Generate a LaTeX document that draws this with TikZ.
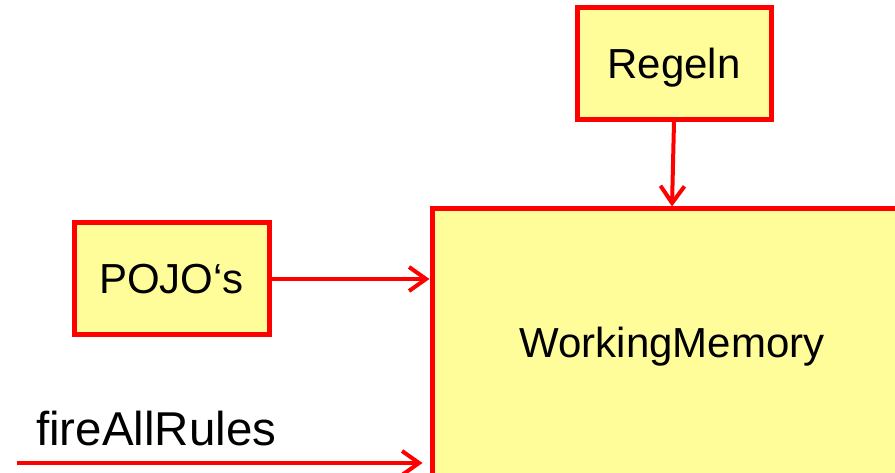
\documentclass[tikz,border=0pt]{standalone}
\usepackage{fontspec}
\setmainfont{Liberation Sans}
\usetikzlibrary{arrows.meta}
\definecolor{boxfill}{RGB}{255,253,153}
\definecolor{boxline}{RGB}{255,0,0}
\tikzset{
  block/.style={draw=boxline, fill=boxfill, line width=5pt, rectangle,
    inner sep=0pt, font=\fontsize{42}{42}\selectfont,
    text height=30pt, text depth=0pt},
  flow/.style={draw=boxline, line width=4pt,
    -{Straight Barb[length=17pt,width=24pt,line width=4pt]}}
}
\begin{document}
\begin{tikzpicture}[x=1pt,y=-1pt]
  \useasboundingbox (0,0) rectangle (895,473);
  \clip (0,0) rectangle (895,473);
  % rule engine parts
  \node[block, minimum width=194pt, minimum height=112pt] (regeln) at (674,63.5) {Regeln};
  \node[block, minimum width=195pt, minimum height=112pt] (pojo) at (171.5,279) {POJO‘s};
  \node[block, minimum width=480pt, minimum height=266pt] (wm) at (672,342) {WorkingMemory};
  % incoming call
  \coordinate (fstart) at (17,463);
  \node[anchor=base west, inner sep=0pt, font=\fontsize{47.5}{47.5}\selectfont] (fire) at (36,445) {fireAllRules};
  % connectors
  \draw[flow] (regeln.south) -- (wm.north);
  \draw[flow] (pojo.east) -- (pojo.east -| wm.west);
  \draw[flow, shorten >=7pt] (fstart) -- (fstart -| wm.west);
\end{tikzpicture}
\end{document}
